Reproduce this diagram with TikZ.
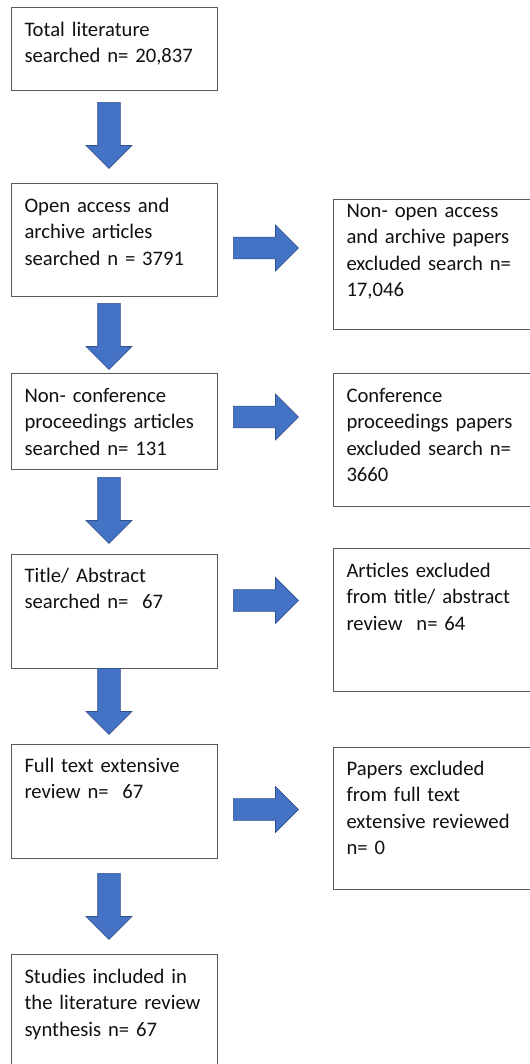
\documentclass[tikz,border=0pt]{standalone}
\usepackage{fontspec}
\setmainfont{Carlito}
\usetikzlibrary{shapes.arrows}
\definecolor{arrowc}{HTML}{4472C4}
\definecolor{arrowe}{HTML}{2F528F}
\definecolor{boxe}{HTML}{595959}
\definecolor{txt}{HTML}{111111}

\begin{document}
\begin{tikzpicture}[x=0.75pt, y=-0.75pt,
    bx/.style={draw=boxe, line width=0.75pt, anchor=north west, align=left,
      inner xsep=9.75pt, inner ysep=0pt, text width=135pt, text height=21.75pt,
      text=txt, font=\fontsize{15.5}{19.8}\selectfont},
    xb/.style={bx, text width=145.5pt},
    dn/.style={single arrow, shape border rotate=270, fill=arrowc, draw=arrowe,
      line width=0.5pt, inner sep=8.25pt, minimum height=49.5pt, minimum width=33.75pt,
      single arrow head extend=8.6pt, anchor=tail},
    rt/.style={dn, shape border rotate=0, inner sep=7.9pt, minimum height=48.75pt,
      single arrow head extend=9pt}]

  \useasboundingbox (0,0) rectangle (530,1064);
  \clip (0,0) rectangle (530,1064);

  % ── main column ──
  \node[bx, text depth=40.5pt]  (b1) at (11,7)   {Total literature\\searched n= 20,837};
  \node[bx, text depth=63pt]    (b2) at (11,183) {Open access and\\archive articles\\searched n = 3791};
  \node[bx, text depth=50.25pt] (b3) at (11,373) {Non- conference\\proceedings articles\\searched n= 131};
  \node[bx, text height=21pt, text depth=64.5pt] (b4) at (11,554) {Title/ Abstract\\searched n=~ 67};
  \node[bx, text height=21pt, text depth=64.5pt] (b5) at (11,744) {Full text extensive\\review n=~ 67};
  \node[bx, text depth=75.75pt] (b6) at (11,954) {Studies included in\\the literature review\\synthesis n= 67};

  % ── excluded column ──
  \node[xb, text height=13.5pt, text depth=84pt] (x1) at (333,199) {Non- open access\\and archive papers\\excluded search n=\\17,046};
  \node[xb, text depth=78pt]   (x2) at (333,373) {Conference\\proceedings papers\\excluded search n=\\3660};
  \node[xb, text depth=85.5pt] (x3) at (333,548) {Articles excluded\\from title/ abstract\\review~ n= 64};
  \node[xb, text height=21pt, text depth=85.5pt] (x4) at (333,747) {Papers excluded\\from full text\\extensive reviewed\\n= 0};

  % ── block arrows (placed by their tails) ──
  \node[dn] (a1) at (109,102) {};
  \node[dn] (a2) at (109,303) {};
  \node[dn] (a3) at (109,477) {};
  \node[dn] (a4) at (109,668) {};
  \node[dn] (a5) at (109,873) {};
  \node[rt] (r1) at (233,248)   {};
  \node[rt] (r2) at (233,417)   {};
  \node[rt] (r3) at (233,600.5) {};
  \node[rt] (r4) at (233,809.5) {};
\end{tikzpicture}
\end{document}
